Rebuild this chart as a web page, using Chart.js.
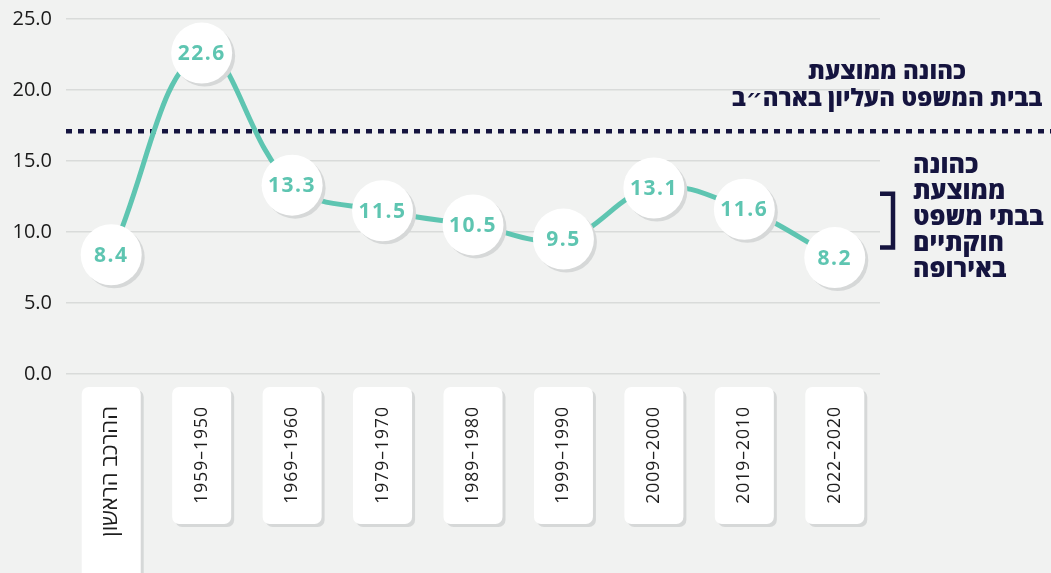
<!DOCTYPE html>
<html lang="he">
<head>
<meta charset="UTF-8">
<title>כהונה ממוצעת</title>
<script src="https://cdn.jsdelivr.net/npm/chart.js"></script>
<style>
    body { margin: 0; background: #f1f2f1; }
    canvas { display: block; }
</style>
</head>
<body>
<canvas id="chart" width="1051" height="573"></canvas>
<script>
    // data
    const periods = ['ההרכב הראשון', '1950–1959', '1960–1969', '1970–1979', '1980–1989', '1990–1999', '2000–2009', '2010–2019', '2020–2022'];
    const tenure = [8.4, 22.6, 13.3, 11.5, 10.5, 9.5, 13.1, 11.6, 8.2];
    const usAverage = 17.1;
    const usLabel = ['כהונה ממוצעת', 'בבית המשפט העליון בארה״ב'];
    const europeRange = [8.9, 12.7];
    const europeLabel = ['כהונה', 'ממוצעת', 'בבתי משפט', 'חוקתיים', 'באירופה'];
    const yTicks = [0, 5, 10, 15, 20, 25];

    const FONT = '"Open Sans", "DejaVu Sans", sans-serif';
    const NAVY = '#15143f';
    const TEAL = '#5ec5b1';
    const SHADOW = '#d6d8d8';

    function roundRect(ctx, x, y, w, h, r) {
        ctx.beginPath();
        ctx.moveTo(x + r, y);
        ctx.arcTo(x + w, y, x + w, y + h, r);
        ctx.arcTo(x + w, y + h, x, y + h, r);
        ctx.arcTo(x, y + h, x, y, r);
        ctx.arcTo(x, y, x + w, y, r);
        ctx.closePath();
    }

    const decor = {
        id: 'decor',
        beforeDatasetsDraw(chart) {
            const { ctx, chartArea, scales: { x, y } } = chart;
            ctx.save();

            // label boxes under the axis
            periods.forEach((p, i) => {
                const cx = x.getPixelForValue(i);
                const top = chartArea.bottom + 13;
                const h = i === 0 ? 230 : 137;
                ctx.fillStyle = SHADOW;
                roundRect(ctx, cx - 29.5 + 3, top + 3, 59, h, 7);
                ctx.fill();
                ctx.fillStyle = '#ffffff';
                roundRect(ctx, cx - 29.5, top, 59, h, 7);
                ctx.fill();

                ctx.save();
                ctx.translate(cx, top + 19);
                ctx.rotate(-Math.PI / 2);
                ctx.direction = 'rtl';
                ctx.textAlign = 'right';
                ctx.textBaseline = 'middle';
                ctx.font = (i === 0 ? '22px ' : '17.5px ') + FONT;
                ctx.letterSpacing = i === 0 ? '0px' : '1px';
                ctx.fillStyle = '#1e1e1e';
                ctx.fillText(p, 0, 0);
                ctx.restore();
            });

            // US supreme court average
            const yy = y.getPixelForValue(usAverage);
            ctx.strokeStyle = NAVY;
            ctx.lineWidth = 4.5;
            ctx.setLineDash([6, 6]);
            ctx.beginPath();
            ctx.moveTo(chartArea.left, yy);
            ctx.lineTo(chart.width, yy);
            ctx.stroke();
            ctx.setLineDash([]);

            ctx.fillStyle = NAVY;
            ctx.font = '800 24px ' + FONT;
            ctx.direction = 'rtl';
            ctx.textAlign = 'center';
            ctx.textBaseline = 'middle';
            ctx.fillText(usLabel[0], 887, 72);
            ctx.fillText(usLabel[1], 887, 99);

            // Europe bracket
            const bt = y.getPixelForValue(europeRange[1]);
            const bb = y.getPixelForValue(europeRange[0]);
            ctx.lineWidth = 4.5;
            ctx.beginPath();
            ctx.moveTo(880, bt);
            ctx.lineTo(893, bt);
            ctx.lineTo(893, bb);
            ctx.lineTo(880, bb);
            ctx.stroke();

            ctx.font = '800 25px ' + FONT;
            ctx.textAlign = 'left';
            europeLabel.forEach((t, i) => {
                ctx.fillText(t, 913, 166 + i * 26);
            });
            ctx.restore();
        },
        afterDatasetsDraw(chart) {
            const { ctx } = chart;
            const meta = chart.getDatasetMeta(0);
            ctx.save();
            meta.data.forEach((pt, i) => {
                ctx.fillStyle = SHADOW;
                ctx.beginPath();
                ctx.arc(pt.x + 3, pt.y + 3, 30.5, 0, Math.PI * 2);
                ctx.fill();
                ctx.fillStyle = '#ffffff';
                ctx.beginPath();
                ctx.arc(pt.x, pt.y, 30.5, 0, Math.PI * 2);
                ctx.fill();

                ctx.fillStyle = TEAL;
                ctx.font = 'bold 21px ' + FONT;
                ctx.letterSpacing = '1.5px';
                ctx.textAlign = 'center';
                ctx.textBaseline = 'middle';
                ctx.fillText(tenure[i].toFixed(1), pt.x, pt.y + 1);
            });
            ctx.restore();
        }
    };

    new Chart(document.getElementById('chart'), {
        type: 'line',
        data: {
            labels: periods,
            datasets: [{
                data: tenure,
                borderColor: TEAL,
                borderWidth: 5,
                tension: 0.4,
                pointRadius: 0,
                fill: false
            }]
        },
        options: {
            responsive: false,
            animation: false,
            layout: { padding: { top: 19, right: 171, bottom: 199, left: 0 } },
            plugins: { legend: { display: false }, tooltip: { enabled: false } },
            scales: {
                x: { display: false, offset: true },
                y: {
                    min: 0,
                    max: 25,
                    afterBuildTicks: s => { s.ticks = yTicks.map(v => ({ value: v })); },
                    afterFit: s => { s.width = 66; s.paddingTop = 0; s.paddingBottom = 0; },
                    border: { display: false },
                    grid: { color: '#d9dbda', lineWidth: 1.5, drawTicks: false },
                    ticks: {
                        padding: 14,
                        color: '#1a1a1a',
                        font: { size: 20, family: FONT },
                        callback: v => v.toFixed(1)
                    }
                }
            }
        },
        plugins: [decor]
    });
</script>
</body>
</html>
